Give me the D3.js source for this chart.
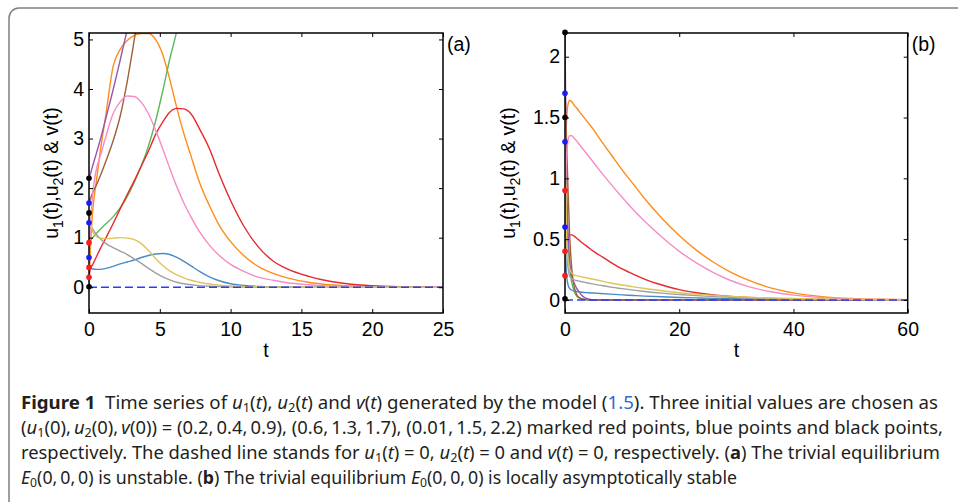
<!DOCTYPE html>
<html><head><meta charset="utf-8">
<script src="https://cdnjs.cloudflare.com/ajax/libs/d3/7.8.5/d3.min.js"></script>
<style>
body{margin:0;background:#fff;}
svg{display:block;}
.tick text{font-family:"Liberation Sans",Arial,sans-serif;font-size:19.5px;fill:#000;}
.tick line{stroke:#000;stroke-width:1;}
.lbl{font-family:"Liberation Sans",Arial,sans-serif;font-size:19.5px;fill:#000;}
.cap{font-family:"Noto Sans","Open Sans",sans-serif;font-size:17.5px;fill:#231f20;}
</style></head><body>
<svg id="fig" width="958" height="502"></svg>
<script>
'use strict';

// colours of the nine curves (same order in both panels)
var seriesColors = ['#4a8cc4', '#ff8c1a', '#5cb85c', '#e8282b', '#9a55b0', '#a0603a', '#f78bc8', '#a0a0a0', '#dcc55a'];

// panel (a): time grid and curve values
var tA = [0, 0.1, 0.25, 0.5, 0.8, 1.2, 1.7, 2.2, 2.7, 3.2, 3.7, 4.2, 4.7, 5.2, 5.7, 6.2, 6.7, 7.2, 7.8, 8.5, 9.2, 10, 11, 12, 13, 14, 15.5, 17, 18.5, 20, 22, 25];
var aBlue   = [0.4, 0.38, 0.37, 0.36, 0.36, 0.38, 0.42, 0.47, 0.51, 0.55, 0.6, 0.64, 0.67, 0.68, 0.66, 0.6, 0.52, 0.43, 0.32, 0.21, 0.13, 0.07, 0.035, 0.017, 0.008, 0.004, 0.002, 0, 0, 0, 0, 0];
var aOrange = [0.01, 0.8, 1.5, 2.1, 2.75, 3.5, 4.45, 4.8, 4.98, 5.08, 5.12, 5.12, 5.0, 4.7, 4.2, 3.62, 3.1, 2.65, 2.12, 1.65, 1.25, 0.92, 0.62, 0.41, 0.28, 0.19, 0.1, 0.05, 0.025, 0.012, 0.005, 0.001];
var aGreen  = [0.9, 0.95, 1.0, 1.08, 1.17, 1.28, 1.42, 1.6, 1.83, 2.12, 2.45, 2.85, 3.35, 3.95, 4.6, 5.18, 6.0, null, null, null, null, null, null, null, null, null, null, null, null, null, null, null];
var aRed    = [0.2, 0.38, 0.45, 0.6, 0.78, 1.0, 1.28, 1.58, 1.87, 2.15, 2.45, 2.75, 3.08, 3.33, 3.53, 3.61, 3.6, 3.5, 3.2, 2.8, 2.28, 1.75, 1.2, 0.8, 0.53, 0.37, 0.22, 0.12, 0.06, 0.03, 0.012, 0.003];
var aPurple = [2.2, 2.29, 2.44, 2.68, 2.98, 3.42, 3.98, 4.58, 5.2, null, null, null, null, null, null, null, null, null, null, null, null, null, null, null, null, null, null, null, null, null, null, null];
var aBrown  = [1.7, 1.78, 1.9, 2.05, 2.25, 2.55, 2.95, 3.45, 4.15, 5.0, 5.9, null, null, null, null, null, null, null, null, null, null, null, null, null, null, null, null, null, null, null, null, null];
var aPink   = [0.6, 1.25, 1.85, 2.35, 2.65, 3.05, 3.5, 3.74, 3.86, 3.85, 3.73, 3.5, 3.17, 2.8, 2.4, 2.03, 1.7, 1.42, 1.12, 0.85, 0.64, 0.46, 0.31, 0.2, 0.14, 0.09, 0.05, 0.025, 0.012, 0.006, 0.002, 0];
var aGray   = [1.3, 1.24, 1.18, 1.07, 0.98, 0.88, 0.8, 0.73, 0.66, 0.57, 0.48, 0.38, 0.29, 0.21, 0.15, 0.1, 0.07, 0.05, 0.033, 0.02, 0.012, 0.007, 0.004, 0.002, 0.001, 0, 0, 0, 0, 0, 0, 0];
var aYellow = [1.5, 1.3, 1.13, 1.03, 0.99, 0.98, 0.99, 1.0, 0.99, 0.96, 0.88, 0.74, 0.58, 0.44, 0.33, 0.25, 0.19, 0.14, 0.1, 0.065, 0.04, 0.025, 0.013, 0.007, 0.004, 0.002, 0, 0, 0, 0, 0, 0];

// panel (b): time grid and curve values
var tB = [0, 0.1, 0.25, 0.5, 0.8, 1.2, 1.6, 2, 2.5, 3, 4, 5, 6, 8, 10, 12, 14, 17, 20, 23, 26, 29, 32, 36, 40, 45, 50, 55, 60];
var bBlue   = [0.6, 0.4, 0.22, 0.13, 0.095, 0.08, 0.074, 0.07, 0.067, 0.064, 0.06, 0.057, 0.054, 0.048, 0.042, 0.037, 0.032, 0.026, 0.021, 0.017, 0.013, 0.01, 0.008, 0.006, 0.004, 0.002, 0.001, 0, 0];
var bOrange = [0.6, 1.1, 1.45, 1.6, 1.64, 1.63, 1.6, 1.58, 1.55, 1.52, 1.46, 1.4, 1.33, 1.2, 1.07, 0.95, 0.83, 0.67, 0.53, 0.41, 0.31, 0.23, 0.165, 0.1, 0.058, 0.028, 0.013, 0.006, 0.003];
var bGreen  = [0.9, 0.85, 0.7, 0.45, 0.27, 0.14, 0.07, 0.035, 0.015, 0.006, 0.001, 0, 0, 0, 0, 0, 0, 0, 0, 0, 0, 0, 0, 0, 0, 0, 0, 0, 0];
var bRed    = [0.4, 0.44, 0.48, 0.52, 0.535, 0.535, 0.525, 0.51, 0.49, 0.47, 0.435, 0.4, 0.37, 0.31, 0.255, 0.21, 0.17, 0.123, 0.085, 0.06, 0.042, 0.029, 0.02, 0.012, 0.007, 0.004, 0.002, 0.001, 0];
var bPurple = [2.2, 1.7, 1.1, 0.6, 0.33, 0.19, 0.14, 0.1, 0.065, 0.035, 0.008, 0.001, 0, 0, 0, 0, 0, 0, 0, 0, 0, 0, 0, 0, 0, 0, 0, 0, 0];
var bBrown  = [1.7, 1.6, 1.35, 0.95, 0.55, 0.25, 0.11, 0.05, 0.02, 0.008, 0.001, 0, 0, 0, 0, 0, 0, 0, 0, 0, 0, 0, 0, 0, 0, 0, 0, 0, 0];
var bPink   = [0.2, 0.8, 1.15, 1.3, 1.35, 1.35, 1.33, 1.31, 1.28, 1.25, 1.19, 1.13, 1.07, 0.955, 0.845, 0.74, 0.645, 0.515, 0.4, 0.305, 0.225, 0.16, 0.112, 0.068, 0.04, 0.02, 0.009, 0.004, 0.002];
var bGray   = [1.3, 0.85, 0.5, 0.28, 0.2, 0.175, 0.165, 0.16, 0.155, 0.15, 0.14, 0.13, 0.122, 0.106, 0.093, 0.081, 0.07, 0.056, 0.045, 0.036, 0.028, 0.022, 0.017, 0.012, 0.008, 0.005, 0.003, 0.002, 0.001];
var bYellow = [1.5, 1.0, 0.6, 0.35, 0.26, 0.22, 0.205, 0.2, 0.195, 0.19, 0.18, 0.17, 0.16, 0.14, 0.123, 0.108, 0.094, 0.076, 0.06, 0.048, 0.038, 0.03, 0.023, 0.017, 0.012, 0.008, 0.005, 0.003, 0.002];

// initial values marked at t = 0
var initRed = [0.2, 0.4, 0.9];
var initBlue = [0.6, 1.3, 1.7];
var initBlack = [0.01, 1.5, 2.2];

var ticksAX = [0, 5, 10, 15, 20, 25];
var ticksAY = [0, 1, 2, 3, 4, 5];
var ticksBX = [0, 20, 40, 60];
var ticksBY = [0, 0.5, 1, 1.5, 2];

var svg = d3.select('#fig');

// rounded frame of the figure box
svg.append('path')
  .attr('d', 'M9,502V18A10,10 0 0 1 19,8H958')
  .attr('fill', 'none')
  .attr('stroke', '#808080')
  .attr('stroke-width', 1.5);

function drawPanel(cfg) {
  var x = d3.scaleLinear().domain(cfg.xDomain).range([cfg.left, cfg.right]);
  var y = d3.scaleLinear().domain(cfg.yDomain).range([cfg.bottom, cfg.top]);
  var g = svg.append('g');
  var fmt = function (d) { return String(d); };

  var clipId = 'clip-' + cfg.name;
  svg.append('clipPath').attr('id', clipId)
    .append('rect')
    .attr('x', cfg.left).attr('y', cfg.top)
    .attr('width', cfg.right - cfg.left).attr('height', cfg.bottom - cfg.top);

  var line = d3.line()
    .defined(function (d) { return d[1] !== null; })
    .x(function (d) { return x(d[0]); })
    .y(function (d) { return y(d[1]); })
    .curve(d3.curveMonotoneX);

  var curves = g.append('g').attr('clip-path', 'url(#' + clipId + ')');
  cfg.series.forEach(function (vals, i) {
    curves.append('path')
      .datum(cfg.t.map(function (t, j) { return [t, vals[j]]; }))
      .attr('d', line)
      .attr('fill', 'none')
      .attr('stroke', seriesColors[i])
      .attr('stroke-width', 1.4);
  });

  // dashed zero line
  curves.append('path')
    .datum([[cfg.xDomain[0], 0], [cfg.xDomain[1], 0]])
    .attr('d', line)
    .attr('stroke', '#2b3cff')
    .attr('stroke-width', 1.7)
    .attr('stroke-dasharray', '8,4');

  // axes with inward ticks on all four sides
  var tk = 4;
  g.append('g').attr('transform', 'translate(0,' + cfg.bottom + ')')
    .call(d3.axisBottom(x).tickValues(cfg.xTicks).tickSize(-tk).tickSizeOuter(0).tickPadding(9).tickFormat(fmt))
    .call(function (s) { s.select('.domain').remove(); });
  g.append('g').attr('transform', 'translate(0,' + cfg.top + ')')
    .call(d3.axisTop(x).tickValues(cfg.xTicks).tickSize(-tk).tickSizeOuter(0).tickFormat(''))
    .call(function (s) { s.select('.domain').remove(); });
  g.append('g').attr('transform', 'translate(' + cfg.left + ',0)')
    .call(d3.axisLeft(y).tickValues(cfg.yTicks).tickSize(-tk).tickSizeOuter(0).tickPadding(5).tickFormat(fmt))
    .call(function (s) { s.select('.domain').remove(); });
  g.append('g').attr('transform', 'translate(' + cfg.right + ',0)')
    .call(d3.axisRight(y).tickValues(cfg.yTicks).tickSize(-tk).tickSizeOuter(0).tickFormat(''))
    .call(function (s) { s.select('.domain').remove(); });

  g.append('rect')
    .attr('x', cfg.left).attr('y', cfg.top)
    .attr('width', cfg.right - cfg.left).attr('height', cfg.bottom - cfg.top)
    .attr('fill', 'none').attr('stroke', '#000').attr('stroke-width', 1.5);

  // initial-value markers
  var pts = [];
  initRed.forEach(function (v) { pts.push({v: v, c: '#ff1a1a'}); });
  initBlue.forEach(function (v) { pts.push({v: v, c: '#1a1aff'}); });
  initBlack.forEach(function (v) { pts.push({v: v, c: '#000'}); });
  g.selectAll('circle.init').data(pts).enter().append('circle')
    .attr('class', 'init')
    .attr('cx', x(0)).attr('cy', function (d) { return y(d.v); })
    .attr('r', 2.8)
    .attr('fill', function (d) { return d.c; });

  // axis labels
  g.append('text').attr('class', 'lbl')
    .attr('x', (cfg.left + cfg.right) / 2).attr('y', 357)
    .attr('text-anchor', 'middle').text('t');

  var yl = g.append('text').attr('class', 'lbl')
    .attr('transform', 'translate(' + cfg.yLabelX + ',' + ((cfg.top + cfg.bottom) / 2) + ') rotate(-90)')
    .attr('text-anchor', 'middle');
  yl.append('tspan').text('u');
  yl.append('tspan').attr('font-size', 14).attr('dy', 5).text('1');
  yl.append('tspan').attr('dy', -5).text('(t),u');
  yl.append('tspan').attr('font-size', 14).attr('dy', 5).text('2');
  yl.append('tspan').attr('dy', -5).text('(t) & v(t)');

  g.append('text').attr('class', 'lbl')
    .attr('x', cfg.right + 4).attr('y', 51).text(cfg.tag);
}

drawPanel({
  name: 'a', tag: '(a)',
  left: 89, right: 443, top: 33, bottom: 313,
  xDomain: [0, 25], yDomain: [-0.52, 5.13],
  xTicks: ticksAX, yTicks: ticksAY, yLabelX: 58,
  t: tA,
  series: [aBlue, aOrange, aGreen, aRed, aPurple, aBrown, aPink, aGray, aYellow]
});

drawPanel({
  name: 'b', tag: '(b)',
  left: 565, right: 907.7, top: 33, bottom: 313,
  xDomain: [0, 60], yDomain: [-0.107, 2.195],
  xTicks: ticksBX, yTicks: ticksBY, yLabelX: 515,
  t: tB,
  series: [bBlue, bOrange, bGreen, bRed, bPurple, bBrown, bPink, bGray, bYellow]
});

// caption: each segment is [text, style]; b = bold, i = italic, s = subscript, l = link colour
var th = '\u2009';
var captionLines = [
  [['Figure 1', 'b'], ['  Time series of ', ''], ['u', 'i'], ['1', 's'], ['(', ''], ['t', 'i'], ['), ', ''], ['u', 'i'], ['2', 's'], ['(', ''], ['t', 'i'], [') and ', ''], ['v', 'i'], ['(', ''], ['t', 'i'], [') generated by the model (', ''], ['1.5', 'l'], ['). Three initial values are chosen as', '']],
  [['(', ''], ['u', 'i'], ['1', 's'], ['(0),' + th, ''], ['u', 'i'], ['2', 's'], ['(0),' + th, ''], ['v', 'i'], ['(0)) = (0.2,' + th + '0.4,' + th + '0.9), (0.6,' + th + '1.3,' + th + '1.7), (0.01,' + th + '1.5,' + th + '2.2) marked red points, blue points and black points,', '']],
  [['respectively. The dashed line stands for ', ''], ['u', 'i'], ['1', 's'], ['(', ''], ['t', 'i'], [') = 0, ', ''], ['u', 'i'], ['2', 's'], ['(', ''], ['t', 'i'], [') = 0 and ', ''], ['v', 'i'], ['(', ''], ['t', 'i'], [') = 0, respectively. (', ''], ['a', 'b'], [') The trivial equilibrium', '']],
  [['E', 'i'], ['0', 's'], ['(0,' + th + '0,' + th + '0) is unstable. (', ''], ['b', 'b'], [') The trivial equilibrium ', ''], ['E', 'i'], ['0', 's'], ['(0,' + th + '0,' + th + '0) is locally asymptotically stable', '']]
];
var captionWidths = [917, 922, 919, 716];
var captionBase = [409, 434, 459, 484];

captionLines.forEach(function (segs, li) {
  var tx = svg.append('text').attr('class', 'cap')
    .attr('x', 21).attr('y', captionBase[li])
    .attr('textLength', captionWidths[li])
    .attr('lengthAdjust', 'spacingAndGlyphs')
    .style('white-space', 'pre');
  var shifted = false;
  segs.forEach(function (seg) {
    var ts = tx.append('tspan').text(seg[0]);
    var dy = 0;
    if (seg[1] === 's') { if (!shifted) { dy = 3; shifted = true; } ts.attr('font-size', 12); }
    else if (shifted) { dy = -3; shifted = false; }
    if (dy) ts.attr('dy', dy);
    if (seg[1] === 'b') ts.attr('font-weight', 'bold');
    if (seg[1] === 'i') ts.attr('font-style', 'italic');
    if (seg[1] === 'l') ts.attr('fill', '#2f6bd0');
  });
});
</script></body></html>
